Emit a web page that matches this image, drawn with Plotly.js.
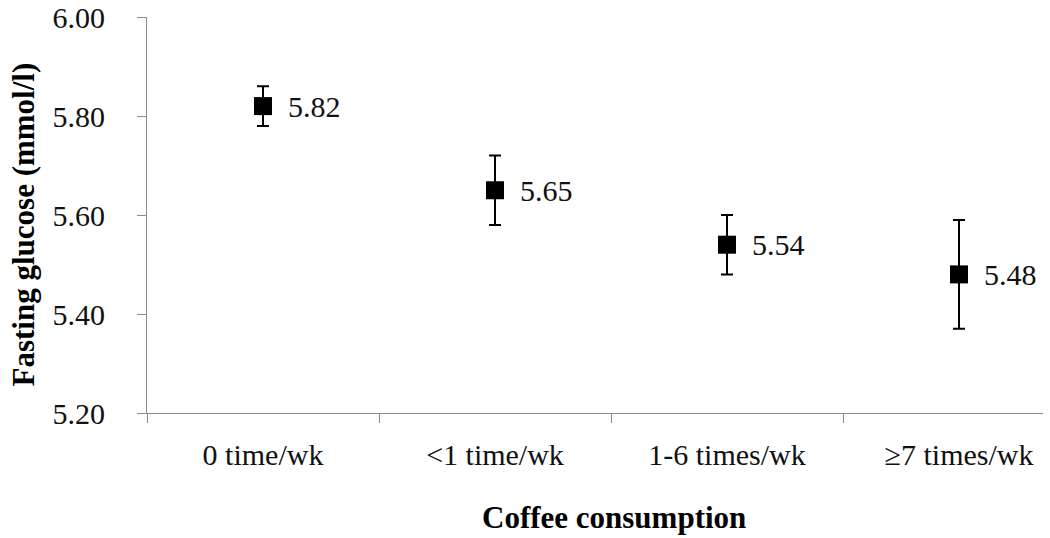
<!DOCTYPE html>
<html>
<head>
<meta charset="utf-8">
<script src="https://cdn.plot.ly/plotly-3.0.1.min.js"></script>
<style>
  body { margin: 0; background: #fff; }
  #graph { width: 1050px; height: 538px; }
</style>
</head>
<body>
<div id="graph"></div>
<script>
// data
var categories = ['0 time/wk', '<1 time/wk', '1-6 times/wk', '\u22657 times/wk'];
var glucose = [5.82, 5.65, 5.54, 5.48];
var errPlus = [0.04, 0.07, 0.06, 0.11];
var errMinus = [0.04, 0.07, 0.06, 0.11];
var labels = ['5.82', '5.65', '5.54', '5.48'];

var axisGray = '#8a8a8a';
var serif = 'Liberation Serif';

var points = {
  x: categories,
  y: glucose,
  type: 'scatter',
  mode: 'markers',
  marker: { symbol: 'square', size: 18, color: '#000' },
  error_y: {
    type: 'data',
    symmetric: false,
    array: errPlus,
    arrayminus: errMinus,
    color: '#000',
    thickness: 2,
    width: 6
  },
  showlegend: false,
  hoverinfo: 'x+y'
};

// value labels to the right of each marker
var valueNotes = categories.map(function (c, i) {
  return {
    x: c,
    y: glucose[i],
    xref: 'x',
    yref: 'y',
    text: labels[i],
    showarrow: false,
    xanchor: 'left',
    yanchor: 'middle',
    xshift: 23,
    font: { family: serif, size: 30, color: '#111' }
  };
});

var layout = {
  width: 1050,
  height: 538,
  margin: { l: 147, r: 7, t: 17, b: 125 },
  paper_bgcolor: '#fff',
  plot_bgcolor: '#fff',
  font: { family: serif, color: '#111' },
  xaxis: {
    type: 'category',
    // last category runs past the right edge of the picture, as in the original
    range: [-0.5, 3.362],
    tickson: 'boundaries',
    ticks: 'outside',
    ticklen: 9,
    tickcolor: axisGray,
    showline: true,
    linecolor: axisGray,
    linewidth: 1,
    showgrid: false,
    zeroline: false,
    tickfont: { family: serif, size: 30, color: '#111' },
    ticklabelstandoff: 15
  },
  yaxis: {
    range: [5.2, 6.0],
    dtick: 0.2,
    tickformat: '.2f',
    ticks: 'outside',
    ticklen: 9,
    tickcolor: axisGray,
    showline: true,
    linecolor: axisGray,
    linewidth: 1,
    showgrid: false,
    zeroline: false,
    tickfont: { family: serif, size: 30, color: '#111' },
    ticklabelstandoff: 26
  },
  annotations: valueNotes.concat([
    {
      // y axis title
      xref: 'paper',
      yref: 'paper',
      x: -0.138,
      y: 0.477,
      xanchor: 'center',
      yanchor: 'middle',
      textangle: -90,
      showarrow: false,
      text: '<b>Fasting glucose (mmol/l)</b>',
      font: { family: serif, size: 31, color: '#000' }
    },
    {
      // x axis title, centred on the full (partly cropped) axis
      xref: 'paper',
      yref: 'paper',
      x: 0.521,
      y: -0.263,
      xanchor: 'center',
      yanchor: 'middle',
      showarrow: false,
      text: '<b>Coffee consumption</b>',
      font: { family: serif, size: 31, color: '#000' }
    }
  ])
};

Plotly.newPlot('graph', [points], layout, { displayModeBar: false });
</script>
</body>
</html>
